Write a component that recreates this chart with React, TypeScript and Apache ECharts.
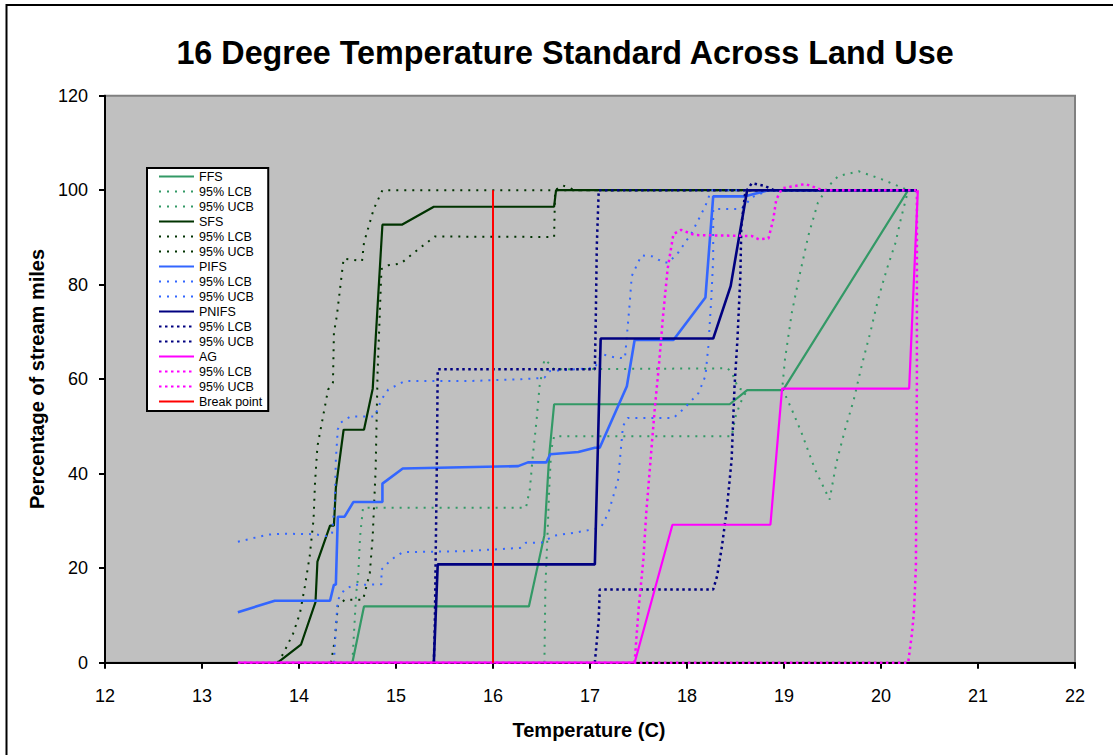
import React, { useEffect, useRef } from "react";
import * as echarts from "echarts";

const FONT = '"Liberation Sans", Arial, sans-serif';

const TITLE = "16 Degree Temperature Standard Across Land Use";
const X_NAME = "Temperature (C)";
const Y_NAME = "Percentage of stream miles";

const X_MIN = 12;
const X_MAX = 22;
const Y_MIN = 0;
const Y_MAX = 120;

type P = [number, number];

const FFS: P[] = [[14.55,0],[14.67,11.9],[16.37,11.9],[16.53,27],[16.58,44],[16.63,54.7],[18.44,54.7],[18.62,57.7],[18.99,57.7],[20.28,100],[20.37,100]];
const FFS_LCB: P[] = [[16.53,0],[16.54,16],[16.56,26],[16.58,37],[16.6,45],[16.63,47.9],[18.46,47.9],[18.5,52],[18.55,55],[18.62,57.7],[18.99,57.7],[19.08,53.6],[19.18,48.7],[19.32,40.9],[19.47,34.5],[19.54,42.3],[19.63,49.4],[19.72,55.7],[19.8,62.8],[19.89,69.9],[19.97,76.9],[20.06,83.3],[20.15,88.9],[20.2,93.5],[20.28,100],[20.37,100]];
const FFS_UCB: P[] = [[14.55,0],[14.59,14.8],[14.61,18.3],[14.63,26.8],[14.66,32.8],[16.34,32.8],[16.38,36.7],[16.41,43.7],[16.45,51.5],[16.48,58.5],[16.53,64.2],[16.58,63.3],[16.63,62.1],[18.42,62.3],[18.47,61],[18.53,58],[18.6,57.7],[18.98,57.7],[19.01,64.2],[19.08,74],[19.15,81],[19.25,90.3],[19.35,97.4],[19.46,100.9],[19.56,103],[19.77,104],[20.01,102.3],[20.28,100],[20.37,100]];

const SFS: P[] = [[13.78,0],[14.02,3.8],[14.17,12.8],[14.19,21.4],[14.32,29],[14.36,29],[14.38,37],[14.46,49.3],[14.67,49.3],[14.76,58],[14.86,92.7],[15.06,92.7],[15.39,96.5],[16.63,96.5],[16.65,100],[20.37,100]];
const SFS_LCB: P[] = [[14.33,0],[14.37,4.9],[14.4,12],[14.47,13.3],[14.66,13.3],[14.73,19],[14.76,26.8],[14.79,40.9],[14.81,61.4],[14.85,83.3],[14.92,84.1],[15.05,84.5],[15.23,87.5],[15.4,90.2],[16.63,90.1],[16.64,100],[16.72,101],[16.85,100],[20.37,100]];
const SFS_UCB: P[] = [[13.78,0],[13.84,2],[13.94,6.2],[14.01,10.5],[14.06,16.1],[14.11,22.5],[14.15,30.3],[14.165,38],[14.19,45.8],[14.3,57.8],[14.35,59.3],[14.36,69.8],[14.39,73.4],[14.46,85.5],[14.55,85.3],[14.65,85],[14.67,88.9],[14.77,96],[14.86,100],[20.37,100]];

const PIFS: P[] = [[13.37,10.7],[13.75,13.1],[14.32,13.1],[14.36,16.5],[14.38,16.5],[14.4,30.9],[14.47,30.9],[14.56,34],[14.86,34],[14.86,37.9],[15.07,41.1],[16.26,41.6],[16.36,42.4],[16.55,42.4],[16.59,44.1],[16.88,44.6],[17.05,45.5],[17.1,45.5],[17.38,58.5],[17.46,68.3],[17.86,68.3],[18.19,77.3],[18.27,98.7],[18.6,98.7],[18.84,100],[20.37,100]];
const PIFS_LCB: P[] = [[14.36,0],[14.38,7.7],[14.4,13.3],[14.47,15.5],[14.57,16.5],[14.71,16.5],[14.85,16.6],[14.85,19.7],[14.95,21.8],[15.07,23.4],[15.71,23.6],[16.28,24.3],[16.34,25.4],[16.5,25.4],[16.63,26.9],[16.84,27.5],[17.05,28.3],[17.12,28.9],[17.19,31.7],[17.29,38.8],[17.34,50.1],[17.39,51.8],[17.86,51.8],[17.96,53.6],[18.12,57.1],[18.19,60.7],[18.22,67],[18.25,76.9],[18.27,85.4],[18.27,96],[18.56,96],[18.67,98.5],[18.84,100],[20.37,100]];
const PIFS_UCB: P[] = [[13.37,25.6],[13.68,27.1],[13.84,27.3],[14.16,27.2],[14.28,26.8],[14.34,27.2],[14.37,34.5],[14.38,43],[14.4,49.4],[14.43,50.8],[14.53,52.1],[14.78,52.1],[14.85,55.7],[14.92,57.8],[15.09,59.6],[15.74,59.6],[16.29,60],[16.53,60.3],[16.58,61.7],[17.05,62.4],[17.12,65.3],[17.26,64.6],[17.36,64.4],[17.41,76.2],[17.43,81.8],[17.53,86.2],[17.64,86],[17.76,84.7],[17.81,84.7],[17.91,86.8],[18.05,91],[18.19,96.7],[18.25,100],[20.37,100]];

const PNIFS: P[] = [[15.39,0],[15.43,20.8],[17.05,20.8],[17.11,68.6],[18.27,68.6],[18.45,79.7],[18.62,100],[20.37,100]];
const PNIFS_LCB: P[] = [[17.05,0],[17.09,9.1],[17.1,15.5],[18.27,15.5],[18.31,18.3],[18.36,24.6],[18.41,32.4],[18.46,43],[18.49,58.5],[18.52,68.4],[18.55,81.8],[18.56,92.4],[18.6,99.5],[18.67,101.5],[18.8,100.9],[18.9,100],[20.37,100]];
const PNIFS_UCB: P[] = [[15.39,0],[15.4,7.7],[15.42,40],[15.43,62.1],[17.05,62.1],[17.06,73.4],[17.07,88.2],[17.09,100],[20.37,100]];

const AG: P[] = [[13.37,0],[17.46,0],[17.85,29.2],[18.86,29.2],[18.98,58],[20.29,58],[20.38,100]];
const AG_LCB: P[] = [[13.37,0],[20.28,0],[20.32,6.3],[20.34,10.9],[20.36,20.4],[20.37,60],[20.37,100]];
const AG_UCB: P[] = [[17.46,0],[17.5,11.2],[17.55,21.8],[17.58,31.7],[17.63,44.4],[17.67,54.3],[17.71,62.8],[17.75,72.7],[17.8,83.3],[17.86,90.7],[17.94,91.6],[18.08,90.5],[18.67,90.3],[18.74,89.6],[18.84,89.8],[18.89,93.9],[18.92,98],[18.98,100.4],[19.22,101.3],[19.4,100],[20.37,100]];

const BREAK: P[] = [[16,0],[16,100]];

const GROUPS = [
  { key: "FFS", color: "#339966", main: FFS, lcb: FFS_LCB, ucb: FFS_UCB, thick: false, w: 2.2 },
  { key: "SFS", color: "#003300", main: SFS, lcb: SFS_LCB, ucb: SFS_UCB, thick: false, w: 2.2 },
  { key: "PIFS", color: "#3366FF", main: PIFS, lcb: PIFS_LCB, ucb: PIFS_UCB, thick: false, w: 2.6 },
  { key: "PNIFS", color: "#000080", main: PNIFS, lcb: PNIFS_LCB, ucb: PNIFS_UCB, thick: true, w: 2.6 },
  { key: "AG", color: "#FF00FF", main: AG, lcb: AG_LCB, ucb: AG_UCB, thick: true, w: 2.2 },
];

export default function App() {
  const ref = useRef<HTMLDivElement>(null);

  useEffect(() => {
    if (!ref.current) return;
    const chart = echarts.init(ref.current, undefined, { renderer: "svg" });

    const series: any[] = [];
    const names: string[] = [];
    const mk = (name: string, data: P[], color: string, width: number, type: any) => {
      names.push(name);
      series.push({
        name,
        type: "line",
        data,
        symbol: "none",
        showSymbol: false,
        smooth: false,
        lineStyle: { color, width, type },
        itemStyle: { color },
        emphasis: { disabled: true },
      });
    };
    GROUPS.forEach((g) => {
      mk(g.key, g.main, g.color, g.w, "solid");
      const dash = g.thick ? [2.5, 3.5] : [2, 6];
      const dw = g.thick ? 2.5 : 2;
      mk(g.key + " 95% LCB", g.lcb, g.color, dw, dash);
      mk(g.key + " 95% UCB", g.ucb, g.color, dw, dash);
    });
    mk("Break point", BREAK, "#FF0000", 2, "solid");

    const axisCommon = {
      type: "value",
      axisLine: { show: true, onZero: false, lineStyle: { color: "#000", width: 2 } },
      axisTick: { show: true, length: 6, lineStyle: { color: "#000", width: 2 } },
      splitLine: { show: false },
    };

    chart.setOption({
      animation: false,
      grid: {
        left: 105,
        right: 38,
        top: 95.7,
        bottom: 92.3,
        show: true,
        backgroundColor: "#C0C0C0",
        borderColor: "#808080",
        borderWidth: 2,
      },
      xAxis: {
        ...axisCommon,
        min: X_MIN,
        max: X_MAX,
        interval: 1,
        axisLabel: { fontSize: 18, color: "#000", margin: 24, fontFamily: FONT },
      },
      yAxis: {
        ...axisCommon,
        min: Y_MIN,
        max: Y_MAX,
        interval: 20,
        axisLabel: { fontSize: 18, color: "#000", margin: 17, fontFamily: FONT },
      },
      legend: {
        show: true,
        orient: "vertical",
        left: 147,
        top: 168,
        padding: [2, 6, 3, 11],
        itemWidth: 35,
        itemHeight: 12,
        itemGap: 2,
        backgroundColor: "#FFFFFF",
        borderColor: "#000000",
        borderWidth: 2,
        borderRadius: 0,
        selectedMode: false,
        itemStyle: { opacity: 0 },
        data: names,
        formatter: (n: string) => n.replace(/^\S+ (?=95%)/, ""),
        textStyle: { fontSize: 12.5, color: "#000", fontFamily: FONT },
      },
      graphic: [
        {
          type: "rect",
          shape: { x: 6.5, y: 5, width: 1200, height: 800 },
          style: { fill: "none", stroke: "#000", lineWidth: 2 },
          silent: true,
        },
        {
          type: "text",
          x: 565,
          y: 52.5,
          style: {
            text: TITLE,
            font: `bold 32.3px ${FONT}`,
            fill: "#000",
            align: "center",
            verticalAlign: "middle",
            textAlign: "center",
            textVerticalAlign: "middle",
          },
        },
        {
          type: "text",
          x: 589,
          y: 730,
          style: {
            text: X_NAME,
            font: `bold 20px ${FONT}`,
            fill: "#000",
            align: "center",
            verticalAlign: "middle",
            textAlign: "center",
            textVerticalAlign: "middle",
          },
        },
        {
          type: "text",
          x: 37,
          y: 379,
          rotation: Math.PI / 2,
          style: {
            text: Y_NAME,
            font: `bold 20px ${FONT}`,
            fill: "#000",
            align: "center",
            verticalAlign: "middle",
            textAlign: "center",
            textVerticalAlign: "middle",
          },
        },
      ],
      series,
    });

    return () => chart.dispose();
  }, []);

  return (
    <div
      ref={ref}
      style={{ position: "absolute", left: 0, top: 0, width: 1113, height: 755, background: "#fff" }}
    />
  );
}
